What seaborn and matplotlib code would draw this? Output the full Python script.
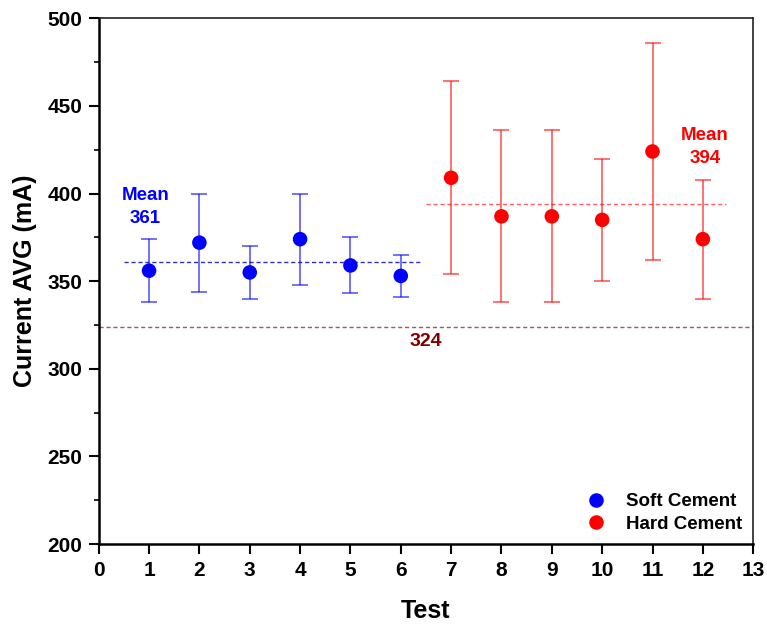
import matplotlib
matplotlib.use("Agg")
import matplotlib.pyplot as plt
import seaborn as sns
import pandas as pd
import numpy as np
from matplotlib.ticker import MultipleLocator

# Data
tests = [1, 2, 3, 4, 5, 6, 7, 8, 9, 10, 11, 12]
groups = ["Soft Cement"] * 6 + ["Hard Cement"] * 6
current = [356, 372, 355, 374, 359, 353, 409, 387, 387, 385, 424, 374]
err_high = [374, 400, 370, 400, 375, 365, 464, 436, 436, 420, 486, 408]
err_low = [338, 344, 340, 348, 343, 341, 354, 338, 338, 350, 362, 340]
soft_mean = 361
hard_mean = 394
ref_value = 324

df = pd.DataFrame({"Test": tests, "Group": groups, "Current": current,
                   "High": err_high, "Low": err_low})

sns.set_theme(style="ticks")
plt.rcParams["font.family"] = ["Liberation Sans", "DejaVu Sans"]
plt.rcParams["font.weight"] = "bold"
for k in ["text.color", "axes.labelcolor", "xtick.color", "ytick.color", "axes.edgecolor"]:
    plt.rcParams[k] = "black"

fig = plt.figure(figsize=(7.67, 6.24), dpi=100)
ax = fig.add_axes([0.1287, 0.128, 0.8533, 0.8427])

palette = {"Soft Cement": "#0000ff", "Hard Cement": "#ff0000"}

# error bars
for g, col in palette.items():
    sub = df[df["Group"] == g]
    yerr = np.vstack([sub["Current"] - sub["Low"], sub["High"] - sub["Current"]])
    ax.errorbar(sub["Test"], sub["Current"], yerr=yerr, fmt="none",
                ecolor=col, elinewidth=1.2, capsize=6, capthick=1.2,
                alpha=0.65, zorder=2)

sns.scatterplot(data=df, x="Test", y="Current", hue="Group", palette=palette,
                s=110, edgecolor="none", ax=ax, zorder=3)

# mean and reference lines
ax.plot([0.5, 6.4], [soft_mean, soft_mean], ls=(0, (3, 2)), color="#3030c0", lw=1.0, zorder=1)
ax.plot([6.5, 12.45], [hard_mean, hard_mean], ls=(0, (3, 2)), color="#ff6060", lw=1.0, zorder=1)
ax.axhline(ref_value, ls=(0, (3, 2)), color="#a05a5a", lw=1.0, zorder=1)

ax.text(0.93, 392.5, f"Mean\n{soft_mean}", color="#0000ff", fontsize=13.5,
        fontweight="bold", ha="center", va="center", linespacing=1.45)
ax.text(12.04, 426.5, f"Mean\n{hard_mean}", color="#ff0000", fontsize=13.5,
        fontweight="bold", ha="center", va="center", linespacing=1.45)
ax.text(6.5, 315.5, f"{ref_value}", color="#800000", fontsize=14,
        fontweight="bold", ha="center", va="center")

ax.set_xlim(0, 13)
ax.set_ylim(200, 500)
ax.xaxis.set_major_locator(MultipleLocator(1))
ax.yaxis.set_major_locator(MultipleLocator(50))
ax.yaxis.set_minor_locator(MultipleLocator(25))
ax.tick_params(axis="both", which="major", direction="out", length=7, width=1.5,
               labelsize=15, pad=5)
ax.tick_params(axis="y", which="minor", direction="out", length=3.5, width=1.2)
for lab in ax.get_xticklabels() + ax.get_yticklabels():
    lab.set_fontweight("bold")

ax.set_xlabel("Test", fontsize=18, fontweight="bold", labelpad=14)
ax.set_ylabel("Current AVG (mA)", fontsize=18, fontweight="bold", labelpad=7)

for s in ["left", "bottom"]:
    ax.spines[s].set_linewidth(1.8)
    ax.spines[s].set_color("black")
for s in ["top", "right"]:
    ax.spines[s].set_linewidth(1.2)
    ax.spines[s].set_color("#222222")

handles, labels = ax.get_legend_handles_labels()
leg = ax.legend(handles=handles, labels=labels, loc="lower right", frameon=False,
                prop={"weight": "bold", "size": 13.5}, handletextpad=0.6,
                borderaxespad=0.2, labelspacing=0.3, markerscale=1.0)

fig.savefig("out.png", dpi=100)
